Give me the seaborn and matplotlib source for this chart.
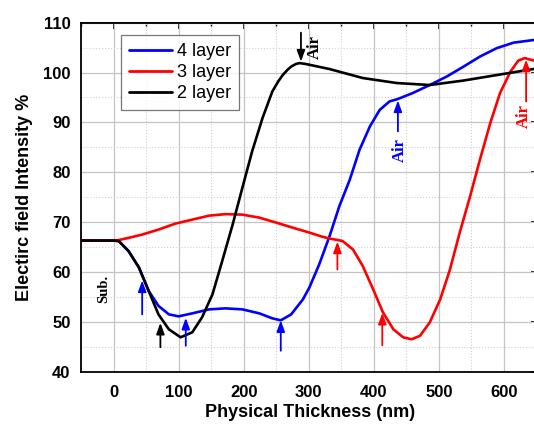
import numpy as np
import pandas as pd
import matplotlib
matplotlib.use("Agg")
import matplotlib.pyplot as plt
import seaborn as sns
from matplotlib.ticker import MultipleLocator

# ---------------- data ----------------
x_4layer = [-50, 0, 8, 23, 39, 54, 69, 85, 100, 121, 147, 172, 198, 224, 244, 257,
            273, 291, 301, 316, 332, 347, 363, 378, 394, 409, 424, 437, 460, 486, 512,
            538, 563, 589, 615, 650]
y_4layer = [66.3, 66.3, 66.2, 64.2, 60.9, 56.2, 53.2, 51.5, 51.1, 51.7, 52.5, 52.7, 52.5,
            51.7, 50.7, 50.3, 51.5, 54.5, 56.9, 61.5, 67.2, 73.2, 78.5, 84.5, 89.2, 92.5,
            94.2, 94.7, 95.9, 97.5, 99.2, 101.2, 103.2, 104.9, 106.0, 106.6]

x_3layer = [-50, 0, 8, 25, 44, 69, 95, 121, 147, 172, 198, 224, 250, 275, 301, 320, 332,
            345, 352, 368, 383, 399, 414, 430, 445, 458, 471, 486, 502, 517, 532, 548,
            563, 579, 594, 610, 622, 632, 640, 650]
y_3layer = [66.3, 66.3, 66.4, 66.9, 67.5, 68.5, 69.7, 70.5, 71.3, 71.6, 71.5, 70.9, 69.9,
            68.9, 67.9, 67.1, 66.7, 66.4, 66.2, 64.5, 61.2, 56.5, 51.9, 48.5, 46.9, 46.5,
            47.2, 49.9, 54.5, 60.5, 67.9, 75.2, 82.5, 89.9, 95.9, 100.2, 102.4, 102.9,
            102.6, 102.3]

x_2layer = [-50, 0, 8, 23, 39, 54, 69, 85, 103, 121, 136, 152, 167, 183, 198, 213, 229,
            244, 253, 260, 267, 273, 280, 286, 296, 332, 383, 435, 486, 538, 589, 650]
y_2layer = [66.3, 66.3, 66.2, 64.2, 60.9, 56.2, 51.5, 48.5, 46.9, 47.9, 50.9, 55.5, 62.2,
            69.5, 76.9, 84.2, 90.9, 96.2, 98.2, 99.5, 100.5, 101.2, 101.7, 101.9, 101.7,
            100.7, 98.9, 97.9, 97.5, 98.4, 99.5, 100.8]

series_labels = ["4 layer", "3 layer", "2 layer"]
series_colors = ["#0000ff", "#ff0000", "#000000"]

# annotation arrows: x, tail y, tip y, colour
arrows_x = [288, 437, 634, 44, 72, 111, 257, 344, 413]
arrows_tail = [108.0, 88.2, 94.2, 51.5, 44.9, 45.2, 44.2, 60.5, 45.3]
arrows_tip = [102.2, 94.4, 102.6, 58.3, 49.8, 50.8, 50.3, 66.1, 51.8]
arrows_color = ["#000000", "#0000ff", "#ff0000", "#0000ff", "#000000", "#0000ff", "#0000ff",
                "#ff0000", "#ff0000"]

# ---------------- build table ----------------
df = pd.concat([
    pd.DataFrame({"x": x_4layer, "y": y_4layer, "layer": series_labels[0]}),
    pd.DataFrame({"x": x_3layer, "y": y_3layer, "layer": series_labels[1]}),
    pd.DataFrame({"x": x_2layer, "y": y_2layer, "layer": series_labels[2]}),
], ignore_index=True)

sns.set_style("white")
plt.rcParams["font.family"] = ["Liberation Sans", "DejaVu Sans"]
plt.rcParams["text.color"] = "black"
plt.rcParams["axes.labelcolor"] = "black"
plt.rcParams["xtick.color"] = "black"
plt.rcParams["ytick.color"] = "black"

fig = plt.figure(figsize=(5.34, 4.33), dpi=100)
ax = fig.add_axes([0.1517, 0.1416, 0.853, 0.806])

sns.lineplot(data=df, x="x", y="y", hue="layer", hue_order=series_labels,
             palette=series_colors, linewidth=1.9, ax=ax, sort=True, estimator=None)

ax.set_xlim(-50, 650)
ax.set_ylim(40, 110)
ax.xaxis.set_major_locator(MultipleLocator(100))
ax.xaxis.set_minor_locator(MultipleLocator(50))
ax.yaxis.set_major_locator(MultipleLocator(10))
ax.yaxis.set_minor_locator(MultipleLocator(5))

ax.grid(which="major", color="#c4c4c4", linewidth=0.9, linestyle="-")
ax.grid(which="minor", color="#d0d0d0", linewidth=0.8, linestyle=":")
ax.set_axisbelow(True)

for s in ax.spines.values():
    s.set_visible(True)
    s.set_color("black")
    s.set_linewidth(1.3)

ax.tick_params(which="major", direction="out", length=4.5, width=1.2, colors="black",
               labelsize=12, pad=3)
ax.tick_params(which="minor", direction="out", length=2.5, width=1.0, colors="black")
ax.tick_params(axis="x", which="major", pad=5)
for lab in ax.get_xticklabels() + ax.get_yticklabels():
    lab.set_fontweight("bold")

# mirrored inward ticks on top and right
top = ax.secondary_xaxis("top")
top.xaxis.set_major_locator(MultipleLocator(100))
top.xaxis.set_minor_locator(MultipleLocator(50))
top.tick_params(which="major", direction="in", length=4.5, width=1.2, labeltop=False)
top.tick_params(which="minor", direction="in", length=2.5, width=1.0)
top.spines["top"].set_linewidth(1.3)
right = ax.secondary_yaxis("right")
right.yaxis.set_major_locator(MultipleLocator(10))
right.yaxis.set_minor_locator(MultipleLocator(5))
right.tick_params(which="major", direction="in", length=4.5, width=1.2, labelright=False)
right.tick_params(which="minor", direction="in", length=2.5, width=1.0)

ax.set_xlabel("Physical Thickness (nm)", fontsize=13, fontweight="bold")
ax.set_ylabel("Electirc field Intensity %", fontsize=13, fontweight="bold")
ax.xaxis.set_label_coords(0.503, -0.094)
ax.yaxis.set_label_coords(-0.105, 0.5)

# arrows
for xa, yt, yp, c in zip(arrows_x, arrows_tail, arrows_tip, arrows_color):
    ax.annotate("", xy=(xa, yp), xytext=(xa, yt),
                arrowprops=dict(arrowstyle="-|>,head_length=0.6,head_width=0.22",
                                color=c, lw=1.3, mutation_scale=11,
                                shrinkA=0, shrinkB=0))

serif = ["Liberation Serif", "DejaVu Serif"]
ax.text(309, 105.2, "Air", rotation=90, ha="center", va="center", color="#000000",
        fontsize=12, fontweight="bold", family=serif)
ax.text(440, 84.5, "Air", rotation=90, ha="center", va="center", color="#0000ff",
        fontsize=12, fontweight="bold", family=serif)
ax.text(630, 91.3, "Air", rotation=90, ha="center", va="center", color="#ff0000",
        fontsize=12, fontweight="bold", family=serif)
ax.text(-15, 56.5, "Sub.", rotation=90, ha="center", va="center", color="#000000",
        fontsize=10.5, fontweight="bold", family=serif)

leg = ax.legend(loc="upper left", bbox_to_anchor=(0.087, 0.965), borderaxespad=0,
                fontsize=13, frameon=True, fancybox=False, handlelength=2.4,
                handletextpad=0.25, labelspacing=0.22, borderpad=0.45)
leg.get_frame().set_edgecolor("#555555")
leg.get_frame().set_linewidth(0.9)
for h in leg.legend_handles:
    h.set_linewidth(2.0)

fig.savefig("out.png", dpi=100)
